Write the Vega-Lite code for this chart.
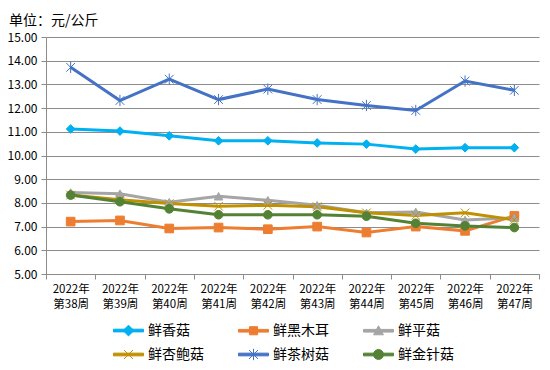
{
  "$schema": "https://vega.github.io/schema/vega-lite/v6.json",
  "autosize": "none",
  "width": 493,
  "height": 237,
  "padding": {"left": 46, "top": 37, "right": 11, "bottom": 96},
  "background": "white",
  "title": {
    "text": "单位：元/公斤",
    "anchor": "start",
    "frame": "group",
    "dx": -37,
    "offset": 3,
    "font": "Noto Sans CJK SC",
    "fontSize": 14,
    "fontWeight": "normal",
    "color": "#000000"
  },
  "data": {
    "values": [
      {"week": "2022年第38周", "series": "鲜香菇", "price": 11.12},
      {"week": "2022年第39周", "series": "鲜香菇", "price": 11.03},
      {"week": "2022年第40周", "series": "鲜香菇", "price": 10.83},
      {"week": "2022年第41周", "series": "鲜香菇", "price": 10.62},
      {"week": "2022年第42周", "series": "鲜香菇", "price": 10.62},
      {"week": "2022年第43周", "series": "鲜香菇", "price": 10.53},
      {"week": "2022年第44周", "series": "鲜香菇", "price": 10.48},
      {"week": "2022年第45周", "series": "鲜香菇", "price": 10.27},
      {"week": "2022年第46周", "series": "鲜香菇", "price": 10.33},
      {"week": "2022年第47周", "series": "鲜香菇", "price": 10.33},
      {"week": "2022年第38周", "series": "鲜黑木耳", "price": 7.21},
      {"week": "2022年第39周", "series": "鲜黑木耳", "price": 7.26},
      {"week": "2022年第40周", "series": "鲜黑木耳", "price": 6.92},
      {"week": "2022年第41周", "series": "鲜黑木耳", "price": 6.96},
      {"week": "2022年第42周", "series": "鲜黑木耳", "price": 6.89},
      {"week": "2022年第43周", "series": "鲜黑木耳", "price": 7.0},
      {"week": "2022年第44周", "series": "鲜黑木耳", "price": 6.75},
      {"week": "2022年第45周", "series": "鲜黑木耳", "price": 7.0},
      {"week": "2022年第46周", "series": "鲜黑木耳", "price": 6.82},
      {"week": "2022年第47周", "series": "鲜黑木耳", "price": 7.45},
      {"week": "2022年第38周", "series": "鲜平菇", "price": 8.44},
      {"week": "2022年第39周", "series": "鲜平菇", "price": 8.39},
      {"week": "2022年第40周", "series": "鲜平菇", "price": 8.03},
      {"week": "2022年第41周", "series": "鲜平菇", "price": 8.28},
      {"week": "2022年第42周", "series": "鲜平菇", "price": 8.11},
      {"week": "2022年第43周", "series": "鲜平菇", "price": 7.9},
      {"week": "2022年第44周", "series": "鲜平菇", "price": 7.58},
      {"week": "2022年第45周", "series": "鲜平菇", "price": 7.62},
      {"week": "2022年第46周", "series": "鲜平菇", "price": 7.28},
      {"week": "2022年第47周", "series": "鲜平菇", "price": 7.37},
      {"week": "2022年第38周", "series": "鲜杏鲍菇", "price": 8.33},
      {"week": "2022年第39周", "series": "鲜杏鲍菇", "price": 8.13},
      {"week": "2022年第40周", "series": "鲜杏鲍菇", "price": 7.97},
      {"week": "2022年第41周", "series": "鲜杏鲍菇", "price": 7.86},
      {"week": "2022年第42周", "series": "鲜杏鲍菇", "price": 7.9},
      {"week": "2022年第43周", "series": "鲜杏鲍菇", "price": 7.84},
      {"week": "2022年第44周", "series": "鲜杏鲍菇", "price": 7.58},
      {"week": "2022年第45周", "series": "鲜杏鲍菇", "price": 7.47},
      {"week": "2022年第46周", "series": "鲜杏鲍菇", "price": 7.58},
      {"week": "2022年第47周", "series": "鲜杏鲍菇", "price": 7.28},
      {"week": "2022年第38周", "series": "鲜茶树菇", "price": 13.72},
      {"week": "2022年第39周", "series": "鲜茶树菇", "price": 12.32},
      {"week": "2022年第40周", "series": "鲜茶树菇", "price": 13.22},
      {"week": "2022年第41周", "series": "鲜茶树菇", "price": 12.36},
      {"week": "2022年第42周", "series": "鲜茶树菇", "price": 12.8},
      {"week": "2022年第43周", "series": "鲜茶树菇", "price": 12.36},
      {"week": "2022年第44周", "series": "鲜茶树菇", "price": 12.11},
      {"week": "2022年第45周", "series": "鲜茶树菇", "price": 11.9},
      {"week": "2022年第46周", "series": "鲜茶树菇", "price": 13.14},
      {"week": "2022年第47周", "series": "鲜茶树菇", "price": 12.75},
      {"week": "2022年第38周", "series": "鲜金针菇", "price": 8.33},
      {"week": "2022年第39周", "series": "鲜金针菇", "price": 8.05},
      {"week": "2022年第40周", "series": "鲜金针菇", "price": 7.75},
      {"week": "2022年第41周", "series": "鲜金针菇", "price": 7.5},
      {"week": "2022年第42周", "series": "鲜金针菇", "price": 7.5},
      {"week": "2022年第43周", "series": "鲜金针菇", "price": 7.5},
      {"week": "2022年第44周", "series": "鲜金针菇", "price": 7.44},
      {"week": "2022年第45周", "series": "鲜金针菇", "price": 7.14},
      {"week": "2022年第46周", "series": "鲜金针菇", "price": 7.03},
      {"week": "2022年第47周", "series": "鲜金针菇", "price": 6.96}
    ]
  },
  "encoding": {
    "x": {
      "field": "week",
      "type": "nominal",
      "sort": null,
      "title": null,
      "scale": {"type": "band", "paddingInner": 0, "paddingOuter": 0},
      "axis": {
        "labelAngle": 0,
        "tickBand": "extent",
        "labelExpr": "[slice(datum.label,0,5), slice(datum.label,5)]",
        "labelLineHeight": 15,
        "labelPadding": 4,
        "labelBaseline": "top",
        "labelFontSize": 11.5,
        "tickSize": 5,
        "tickColor": "#8c8c8c",
        "domainColor": "#8c8c8c",
        "grid": false
      }
    },
    "y": {
      "field": "price",
      "type": "quantitative",
      "title": null,
      "scale": {"domain": [5, 15], "nice": false, "zero": false},
      "axis": {
        "values": [5, 6, 7, 8, 9, 10, 11, 12, 13, 14, 15],
        "format": ".2f",
        "tickSize": 5,
        "labelPadding": 4,
        "tickColor": "#8c8c8c",
        "domainColor": "#8c8c8c",
        "gridColor": "#8c8c8c",
        "grid": true
      }
    },
    "color": {
      "field": "series",
      "type": "nominal",
      "scale": {
        "domain": ["鲜香菇", "鲜黑木耳", "鲜平菇", "鲜杏鲍菇", "鲜茶树菇", "鲜金针菇"],
        "range": ["#00B0F0", "#ED7D31", "#A5A5A5", "#BF9000", "#4472C4", "#548235"]
      },
      "legend": {
        "title": null,
        "orient": "none",
        "legendX": 67,
        "legendY": 278,
        "direction": "horizontal",
        "columns": 3,
        "columnPadding": 32,
        "rowPadding": 1,
        "symbolSize": 900,
        "labelOffset": 4,
        "labelFontSize": 14,
        "labelFont": "Noto Sans CJK SC",
        "labelColor": "#000000",
        "encode": {
          "symbols": {
            "update": {
              "shape": {"signal": "datum.value === '鲜香菇' ? 'M-1,-0.09H1V0.09H-1ZM0,-0.36L0.36,0L0,0.36L-0.36,0Z' : datum.value === '鲜黑木耳' ? 'M-1,-0.09H1V0.09H-1ZM-0.27,-0.27H0.27V0.27H-0.27Z' : datum.value === '鲜平菇' ? 'M-1,-0.09H1V0.09H-1ZM0,-0.33L0.33,0.27H-0.33Z' : datum.value === '鲜杏鲍菇' ? 'M-1,-0.09H1V0.09H-1ZM-0.3,-0.3L0.3,0.3M-0.3,0.3L0.3,-0.3' : datum.value === '鲜茶树菇' ? 'M-1,-0.09H1V0.09H-1ZM-0.3,-0.3L0.3,0.3M-0.3,0.3L0.3,-0.3M0,-0.38V0.38' : 'M-1,-0.09H1V0.09H-1ZM0.33,0A0.33,0.33,0,1,1,-0.33,0A0.33,0.33,0,1,1,0.33,0Z'"},
              "fill": {"signal": "scale('color', datum.value)"},
              "stroke": {"signal": "scale('color', datum.value)"},
              "strokeWidth": {"value": 1},
              "opacity": {"value": 1},
              "size": {"value": 900}
            }
          }
        }
      }
    }
  },
  "layer": [
    {
      "mark": {"type": "line", "strokeWidth": 3}
    },
    {
      "mark": {"type": "point", "filled": true, "size": 75, "opacity": 1, "strokeWidth": 1},
      "encoding": {
        "shape": {
          "field": "series",
          "type": "nominal",
          "legend": null,
          "scale": {
            "domain": ["鲜金针菇", "鲜茶树菇", "鲜杏鲍菇", "鲜平菇", "鲜黑木耳", "鲜香菇"],
            "range": ["circle", "M-1,-1L1,1M-1,1L1,-1M0,-1.3V1.3", "M-1,-1L1,1M-1,1L1,-1", "triangle-up", "square", "diamond"]
          }
        },
        "stroke": {"field": "series", "type": "nominal", "legend": null, "scale": {
            "domain": ["鲜金针菇", "鲜茶树菇", "鲜杏鲍菇", "鲜平菇", "鲜黑木耳", "鲜香菇"],
            "range": ["#548235", "#4472C4", "#BF9000", "#A5A5A5", "#ED7D31", "#00B0F0"]
          }}
      }
    }
  ],
  "config": {
    "view": {"stroke": null},
    "axis": {
      "labelFont": "Noto Sans CJK SC",
      "labelFontSize": 12,
      "labelColor": "#000000"
    }
  }
}
